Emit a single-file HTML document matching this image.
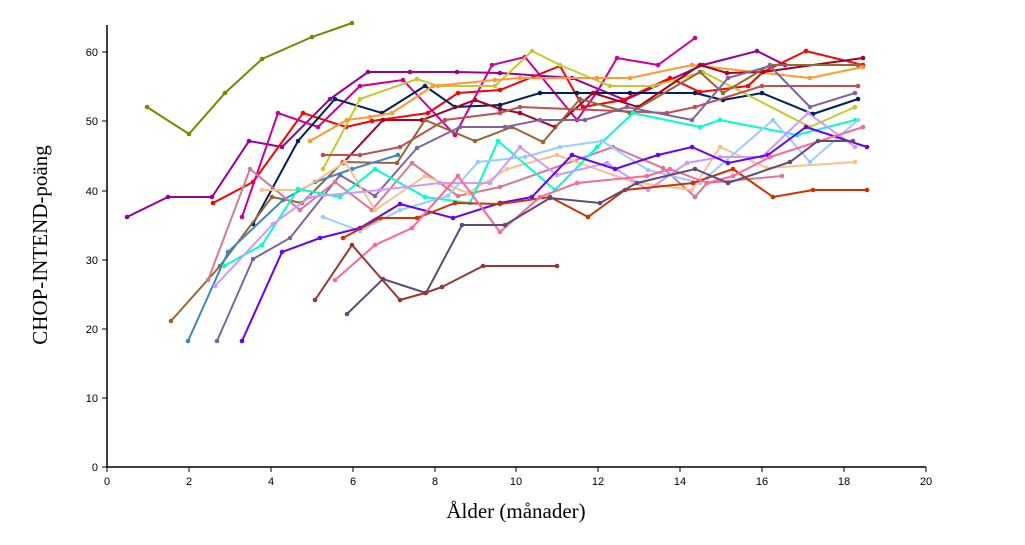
<!DOCTYPE html>
<html><head><meta charset="utf-8"><style>
html,body{margin:0;padding:0;background:#fff;}
svg{display:block;}
</style></head><body>
<svg id="s" width="1025" height="545" xmlns="http://www.w3.org/2000/svg">
<rect width="1025" height="545" fill="#fff"/>
<g id="series"></g>
<g stroke="#000" stroke-width="1.5" fill="none">
<line x1="107" y1="25" x2="107" y2="467"/>
<line x1="106" y1="467" x2="926" y2="467"/>
</g>
<g stroke="#000" stroke-width="1">
<line x1="102" y1="467" x2="107" y2="467"/><line x1="102" y1="398" x2="107" y2="398"/><line x1="102" y1="329" x2="107" y2="329"/><line x1="102" y1="260" x2="107" y2="260"/><line x1="102" y1="191" x2="107" y2="191"/><line x1="102" y1="121" x2="107" y2="121"/><line x1="102" y1="52" x2="107" y2="52"/>
<line x1="107" y1="467" x2="107" y2="472"/><line x1="189" y1="467" x2="189" y2="472"/><line x1="271" y1="467" x2="271" y2="472"/><line x1="353" y1="467" x2="353" y2="472"/><line x1="435" y1="467" x2="435" y2="472"/><line x1="516" y1="467" x2="516" y2="472"/><line x1="598" y1="467" x2="598" y2="472"/><line x1="680" y1="467" x2="680" y2="472"/><line x1="762" y1="467" x2="762" y2="472"/><line x1="844" y1="467" x2="844" y2="472"/><line x1="926" y1="467" x2="926" y2="472"/>
</g>
<g font-family="Liberation Sans, sans-serif" font-size="11" fill="#000" text-anchor="end">
<text x="98" y="471">0</text><text x="98" y="402">10</text><text x="98" y="333">20</text><text x="98" y="264">30</text><text x="98" y="195">40</text><text x="98" y="125">50</text><text x="98" y="56">60</text>
</g>
<g font-family="Liberation Sans, sans-serif" font-size="11" fill="#000" text-anchor="middle">
<text x="107" y="485">0</text><text x="189" y="485">2</text><text x="271" y="485">4</text><text x="353" y="485">6</text><text x="435" y="485">8</text><text x="516" y="485">10</text><text x="598" y="485">12</text><text x="680" y="485">14</text><text x="762" y="485">16</text><text x="844" y="485">18</text><text x="926" y="485">20</text>
</g>
<text x="516" y="518" font-family="Liberation Serif, serif" font-size="21" text-anchor="middle">Ålder (månader)</text>
<text transform="translate(47,245) rotate(-90)" font-family="Liberation Serif, serif" font-size="21" text-anchor="middle">CHOP-INTEND-poäng</text>
</svg>
<script>
var S=[
["#6b8e00",[[147,107],[189,134],[225,93],[262,59],[312,37],[352,23]]],
["#990099",[[127,217],[168,197],[212,197],[249,141],[282,147],[330,99],[368,72],[410,72],[457,72],[500,73],[572,78],[625,100],[703,65],[757,51],[785,65]]],
["#ff0000",[[213,203],[253,182],[303,113],[346,127],[372,121],[428,113],[458,93],[500,90],[560,66],[583,107],[623,100],[670,78],[700,92],[748,86],[763,72],[806,51],[863,65]]],
["#cc0099",[[242,217],[278,113],[318,127],[360,86],[403,80],[455,135],[492,65],[525,57],[577,120],[597,92],[617,58],[658,65],[695,38]]],
["#002060",[[253,224],[298,141],[335,99],[382,113],[425,86],[455,107],[500,105],[540,93],[577,93],[630,93],[695,93],[723,100],[762,93],[813,114],[858,99]]],
["#c8c832",[[323,169],[360,99],[417,79],[438,86],[495,86],[532,51],[560,65],[610,86],[653,86],[703,72],[810,127],[855,107]]],
["#ff9933",[[310,141],[347,120],[370,117],[392,113],[433,86],[495,80],[520,78],[597,78],[630,78],[692,65],[810,78],[863,67]]],
["#a50021",[[343,163],[383,120],[422,120],[475,100],[500,109],[520,113],[555,127],[593,93],[638,107],[700,65],[727,73],[763,72],[863,58]]],
["#c0504d",[[323,155],[360,155],[400,147],[445,120],[500,113],[520,107],[667,113],[695,107],[762,86],[858,86]]],
["#996633",[[171,321],[220,266],[272,197],[302,203],[343,162],[397,163],[425,120],[475,141],[512,127],[543,142],[580,99],[630,113],[700,72],[723,93],[770,65],[858,65]]],
["#8064a2",[[217,341],[253,259],[290,238],[340,175],[375,196],[417,148],[460,127],[505,127],[540,120],[585,120],[627,107],[692,120],[728,78],[770,66],[810,107],[855,93]]],
["#3d85c6",[[188,341],[228,252],[283,200],[315,182],[352,169],[398,155]]],
["#d97990",[[208,280],[250,169],[300,210],[335,182],[372,210],[412,163],[458,196],[500,187],[613,147],[663,168],[695,197],[707,183],[782,176]]],
["#fac090",[[262,190],[302,190],[345,162],[375,210],[425,176],[468,193],[507,169],[557,155],[633,182],[692,190],[720,147],[767,168],[855,162]]],
["#00ffcc",[[224,266],[262,245],[298,189],[340,197],[375,169],[425,197],[470,203],[498,141],[555,190],[597,147],[633,113],[700,127],[720,120],[797,135],[855,120]]],
["#99ccff",[[323,217],[360,231],[400,210],[448,196],[478,162],[525,157],[560,147],[602,141],[648,170],[700,183],[773,120],[810,162],[858,120]]],
["#cc99ff",[[215,286],[273,224],[310,197],[380,190],[440,183],[490,183],[520,147],[557,175],[607,163],[648,190],[687,163],[720,157],[762,157],[808,113],[855,147]]],
["#6600ff",[[242,341],[282,252],[320,238],[360,228],[400,204],[453,218],[500,203],[532,197],[572,155],[615,169],[658,155],[692,147],[728,163],[768,155],[806,127],[867,147]]],
["#cc3300",[[343,238],[380,218],[417,218],[455,203],[500,204],[550,197],[588,217],[625,190],[693,183],[733,169],[773,197],[813,190],[867,190]]],
["#ff6699",[[335,280],[375,245],[412,228],[458,176],[500,232],[540,197],[577,183],[647,176],[670,169],[707,183],[733,176],[770,157],[863,127]]],
["#604a7b",[[347,314],[383,279],[426,293],[462,225],[505,225],[550,198],[600,203],[637,183],[695,169],[728,183],[790,162],[818,141],[853,141]]],
["#953735",[[315,300],[352,245],[400,300],[425,293],[442,287],[483,266],[557,266]]]
];
var g=document.getElementById("series"),ns="http://www.w3.org/2000/svg";
S.forEach(function(s){
 var p=document.createElementNS(ns,"polyline");
 p.setAttribute("points",s[1].map(function(q){return q.join(",")}).join(" "));
 p.setAttribute("fill","none");p.setAttribute("stroke",s[0]);p.setAttribute("stroke-width","2");
 g.appendChild(p);
 s[1].forEach(function(q){var c=document.createElementNS(ns,"circle");c.setAttribute("cx",q[0]);c.setAttribute("cy",q[1]);c.setAttribute("r","2.3");c.setAttribute("fill",s[0]);g.appendChild(c);});
});
</script>
</body></html>
